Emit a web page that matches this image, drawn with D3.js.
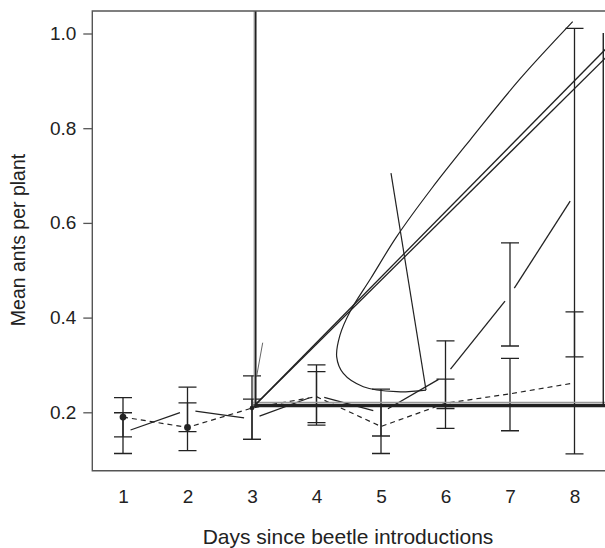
<!DOCTYPE html>
<html lang="en">
<head>
<meta charset="UTF-8">
<title>Mean ants per plant</title>
<script src="https://cdn.jsdelivr.net/npm/d3@7"></script>
<style>
body { margin: 0; background: #fff; }
text { font-family: "Liberation Sans", Arial, sans-serif; fill: #222; }
</style>
</head>
<body>
<script>
// data
var days = [1, 2, 3, 4, 5, 6, 7, 8]
var meanDashed = [0.190, 0.168, 0.209, 0.233, 0.170, 0.219, 0.239, 0.262]
var loDashed   = [0.148, 0.119, 0.143, 0.178, 0.113, 0.166, 0.161, 0.112]
var hiDashed   = [0.231, 0.220, 0.277, 0.286, 0.216, 0.270, 0.314, 0.412]
var meanSolid  = [0.157, 0.205, 0.186, 0.236, 0.199, 0.278, 0.448, 0.660]
var loSolid    = [0.113, 0.159, 0.143, 0.173, 0.150, 0.208, 0.340, 0.317]
var hiSolid    = [0.199, 0.253, 0.228, 0.300, 0.249, 0.351, 0.558, 1.011]
var dotDays = [1, 2, 3]
var yTicks = [0.2, 0.4, 0.6, 0.8, 1.0]

// stray strokes that are in the figure, as [day, value]
var spikeA = [[3.035, 0.214], [3.035, 1.3]]
var spikeB = [[3.058, 0.214], [3.058, 1.3]]
var sliver = [[3.166, 0.347], [3.073, 0.277]]
var flatHeavy = [[3.02, 0.2144], [8.7, 0.2144]]
var flatLight = [[3.02, 0.221], [8.7, 0.221]]
var rampA = [[3.04, 0.2144], [8.7, 0.997]]
var rampB = [[3.04, 0.2144], [8.7, 0.978]]
var edgeRise = [[8.446, 0.2144], [8.446, 1.001]]
var loop = [[5.698, 0.247], [5.243, 0.2435], [4.726, 0.254], [4.416, 0.282], [4.313, 0.317],
            [4.364, 0.363], [4.519, 0.4125], [4.845, 0.4836], [5.243, 0.571], [5.791, 0.6737],
            [6.38, 0.775], [7.155, 0.904], [7.972, 1.025]]
var tail = [[5.155, 0.705], [5.698, 0.247]]

var W = 605, H = 548
var plotLeft = 92.3, plotTop = 11, plotBottom = 470.7, plotRight = 640

var x = d3.scaleLinear().domain([1, 8]).range([123, 574.5])
var y = d3.scaleLinear().domain([0.2, 1.0]).range([412.3, 33.5])

var svg = d3.select('body').append('svg').attr('width', W).attr('height', H)

svg.append('clipPath').attr('id', 'clip').append('rect')
    .attr('x', plotLeft).attr('y', plotTop)
    .attr('width', plotRight - plotLeft).attr('height', plotBottom - plotTop)

var g = svg.append('g').attr('clip-path', 'url(#clip)')
var line = d3.line().x(d => x(d[0])).y(d => y(d[1]))

// error bars, two per day
function bars(lo, hi) {
    var b = g.append('g').attr('stroke', '#222').attr('stroke-width', 1.3)
    days.forEach(function (d, i) {
        var cx = x(d)
        b.append('line').attr('x1', cx).attr('x2', cx).attr('y1', y(lo[i])).attr('y2', y(hi[i]))
        ;[lo[i], hi[i]].forEach(function (v) {
            b.append('line').attr('x1', cx - 9).attr('x2', cx + 9).attr('y1', y(v)).attr('y2', y(v))
        })
    })
}
bars(loDashed, hiDashed)
bars(loSolid, hiSolid)

// dashed series with dots
g.append('path')
    .attr('d', line(days.map((d, i) => [d, meanDashed[i]])))
    .attr('fill', 'none').attr('stroke', '#222').attr('stroke-width', 1.2)
    .attr('stroke-dasharray', '5,4')

g.selectAll('circle.dot').data(dotDays).enter().append('circle')
    .attr('cx', d => x(d)).attr('cy', d => y(meanDashed[d - 1]))
    .attr('r', d => d == 3 ? 2.3 : 3.4).attr('fill', '#222')

// solid series, broken round each point
var gap = 8
for (var i = 0; i < days.length - 1; i++) {
    var x0 = x(days[i]), y0 = y(meanSolid[i]), x1 = x(days[i + 1]), y1 = y(meanSolid[i + 1])
    var len = Math.hypot(x1 - x0, y1 - y0), ux = (x1 - x0) / len, uy = (y1 - y0) / len
    g.append('line')
        .attr('x1', x0 + ux * gap).attr('y1', y0 + uy * gap)
        .attr('x2', x1 - ux * gap).attr('y2', y1 - uy * gap)
        .attr('stroke', '#222').attr('stroke-width', 1.3)
}

// the stray strokes
function stroke(pts, w, col, curve) {
    g.append('path').attr('d', line.curve(curve || d3.curveLinear)(pts))
        .attr('fill', 'none').attr('stroke', col || '#222').attr('stroke-width', w)
}
stroke(flatLight, 1.2, '#999')
stroke(flatHeavy, 3.5)
stroke(spikeA, 1.2, '#888')
stroke(spikeB, 1.6)
stroke(sliver, 1, '#666')
stroke(rampA, 1.3)
stroke(rampB, 1.3)
stroke(edgeRise, 1.4)
stroke(loop, 1.2, '#222', d3.curveCatmullRom)
stroke(tail, 1.2)

// frame
svg.append('path')
    .attr('d', `M${plotRight},${plotTop}H${plotLeft}V${plotBottom}H${plotRight}`)
    .attr('fill', 'none').attr('stroke', '#555').attr('stroke-width', 1.4)

// axes
var ya = svg.append('g').attr('transform', `translate(${plotLeft},0)`)
    .call(d3.axisLeft(y).tickValues(yTicks).tickFormat(d3.format('.1f')).tickSize(9).tickPadding(7))
ya.select('.domain').remove()
ya.selectAll('line').attr('stroke', '#555').attr('stroke-width', 1.3)
ya.selectAll('text').style('font-size', '19px').attr('fill', '#222')

var xa = svg.append('g').attr('transform', `translate(0,${plotBottom})`)
    .call(d3.axisBottom(x).tickValues(days).tickFormat(d3.format('d')).tickSize(0).tickPadding(19))
xa.select('.domain').remove()
xa.selectAll('text').style('font-size', '19px').attr('fill', '#222')

svg.append('text').attr('x', 348).attr('y', 544).attr('text-anchor', 'middle')
    .style('font-size', '21px').text('Days since beetle introductions')

svg.append('text').attr('transform', 'translate(25,240) rotate(-90)').attr('text-anchor', 'middle')
    .style('font-size', '19.5px').text('Mean ants per plant')
</script>
</body>
</html>
